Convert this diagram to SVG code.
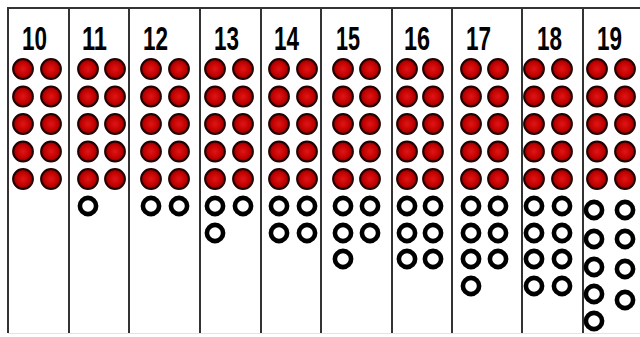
<svg xmlns="http://www.w3.org/2000/svg" width="640" height="337" viewBox="0 0 640 337">
<defs>
<radialGradient id="rg" cx="50%" cy="50%" r="50%">
<stop offset="0" stop-color="#e01515"/>
<stop offset="0.7" stop-color="#c00000"/>
<stop offset="1" stop-color="#7a0000"/>
</radialGradient>
<g id="R"><circle r="9.9" fill="url(#rg)" stroke="#200000" stroke-width="2"/></g>
<g id="O"><circle r="8.1" fill="#fff" stroke="#000" stroke-width="4.6"/></g>
</defs>
<style>
.lbl{font-family:"Liberation Sans",Arial,sans-serif;font-weight:bold;font-size:34px;fill:#000}
.div{stroke:#333;stroke-width:2;fill:none}
</style>
<rect width="640" height="337" fill="#fff"/>
<g id="connectors">
<line class="div" x1="7" y1="8" x2="640" y2="8" stroke="#000"/>
<line class="div" x1="8" y1="8" x2="8" y2="333"/>
<line class="div" x1="69" y1="8" x2="69" y2="333"/>
<line class="div" x1="129" y1="8" x2="129" y2="333"/>
<line class="div" x1="200" y1="8" x2="200" y2="333"/>
<line class="div" x1="261" y1="8" x2="261" y2="333"/>
<line class="div" x1="321" y1="8" x2="321" y2="333"/>
<line class="div" x1="392" y1="8" x2="392" y2="333"/>
<line class="div" x1="452" y1="8" x2="452" y2="333"/>
<line class="div" x1="522" y1="8" x2="522" y2="333"/>
<line class="div" x1="583" y1="8" x2="583" y2="333"/>
<line x1="8" y1="333.5" x2="640" y2="333.5" stroke="#e4e4e4" stroke-width="1"/>
</g>
<g id="col10">
<text class="lbl" x="22" y="49.5" textLength="25" lengthAdjust="spacingAndGlyphs">10</text>
<use href="#R" x="23" y="69"/><use href="#R" x="51" y="69"/>
<use href="#R" x="23" y="96.5"/><use href="#R" x="51" y="96.5"/>
<use href="#R" x="23" y="124"/><use href="#R" x="51" y="124"/>
<use href="#R" x="23" y="151.5"/><use href="#R" x="51" y="151.5"/>
<use href="#R" x="23" y="179"/><use href="#R" x="51" y="179"/>
</g>
<g id="col11">
<text class="lbl" x="82" y="49.5" textLength="25" lengthAdjust="spacingAndGlyphs">11</text>
<use href="#R" x="88" y="69"/><use href="#R" x="115" y="69"/>
<use href="#R" x="88" y="96.5"/><use href="#R" x="115" y="96.5"/>
<use href="#R" x="88" y="124"/><use href="#R" x="115" y="124"/>
<use href="#R" x="88" y="151.5"/><use href="#R" x="115" y="151.5"/>
<use href="#R" x="88" y="179"/><use href="#R" x="115" y="179"/>
<use href="#O" x="88" y="206"/>
</g>
<g id="col12">
<text class="lbl" x="143" y="49.5" textLength="25" lengthAdjust="spacingAndGlyphs">12</text>
<use href="#R" x="151" y="69"/><use href="#R" x="179" y="69"/>
<use href="#R" x="151" y="96.5"/><use href="#R" x="179" y="96.5"/>
<use href="#R" x="151" y="124"/><use href="#R" x="179" y="124"/>
<use href="#R" x="151" y="151.5"/><use href="#R" x="179" y="151.5"/>
<use href="#R" x="151" y="179"/><use href="#R" x="179" y="179"/>
<use href="#O" x="151" y="206"/><use href="#O" x="179" y="206"/>
</g>
<g id="col13">
<text class="lbl" x="214" y="49.5" textLength="25" lengthAdjust="spacingAndGlyphs">13</text>
<use href="#R" x="215" y="69"/><use href="#R" x="243" y="69"/>
<use href="#R" x="215" y="96.5"/><use href="#R" x="243" y="96.5"/>
<use href="#R" x="215" y="124"/><use href="#R" x="243" y="124"/>
<use href="#R" x="215" y="151.5"/><use href="#R" x="243" y="151.5"/>
<use href="#R" x="215" y="179"/><use href="#R" x="243" y="179"/>
<use href="#O" x="215" y="206"/><use href="#O" x="243" y="206"/>
<use href="#O" x="215" y="233"/>
</g>
<g id="col14">
<text class="lbl" x="274" y="49.5" textLength="25" lengthAdjust="spacingAndGlyphs">14</text>
<use href="#R" x="279" y="69"/><use href="#R" x="307" y="69"/>
<use href="#R" x="279" y="96.5"/><use href="#R" x="307" y="96.5"/>
<use href="#R" x="279" y="124"/><use href="#R" x="307" y="124"/>
<use href="#R" x="279" y="151.5"/><use href="#R" x="307" y="151.5"/>
<use href="#R" x="279" y="179"/><use href="#R" x="307" y="179"/>
<use href="#O" x="279" y="206"/><use href="#O" x="307" y="206"/>
<use href="#O" x="279" y="233"/><use href="#O" x="307" y="233"/>
</g>
<g id="col15">
<text class="lbl" x="336" y="49.5" textLength="24" lengthAdjust="spacingAndGlyphs">15</text>
<use href="#R" x="343" y="69"/><use href="#R" x="370" y="69"/>
<use href="#R" x="343" y="96.5"/><use href="#R" x="370" y="96.5"/>
<use href="#R" x="343" y="124"/><use href="#R" x="370" y="124"/>
<use href="#R" x="343" y="151.5"/><use href="#R" x="370" y="151.5"/>
<use href="#R" x="343" y="179"/><use href="#R" x="370" y="179"/>
<use href="#O" x="343" y="206"/><use href="#O" x="370" y="206"/>
<use href="#O" x="343" y="233"/><use href="#O" x="370" y="233"/>
<use href="#O" x="343" y="259"/>
</g>
<g id="col16">
<text class="lbl" x="404" y="49.5" textLength="26" lengthAdjust="spacingAndGlyphs">16</text>
<use href="#R" x="407" y="69"/><use href="#R" x="433" y="69"/>
<use href="#R" x="407" y="96.5"/><use href="#R" x="433" y="96.5"/>
<use href="#R" x="407" y="124"/><use href="#R" x="433" y="124"/>
<use href="#R" x="407" y="151.5"/><use href="#R" x="433" y="151.5"/>
<use href="#R" x="407" y="179"/><use href="#R" x="433" y="179"/>
<use href="#O" x="407" y="206"/><use href="#O" x="433" y="206"/>
<use href="#O" x="407" y="233"/><use href="#O" x="433" y="233"/>
<use href="#O" x="407" y="259"/><use href="#O" x="433" y="259"/>
</g>
<g id="col17">
<text class="lbl" x="466" y="49.5" textLength="25" lengthAdjust="spacingAndGlyphs">17</text>
<use href="#R" x="471" y="69"/><use href="#R" x="498" y="69"/>
<use href="#R" x="471" y="96.5"/><use href="#R" x="498" y="96.5"/>
<use href="#R" x="471" y="124"/><use href="#R" x="498" y="124"/>
<use href="#R" x="471" y="151.5"/><use href="#R" x="498" y="151.5"/>
<use href="#R" x="471" y="179"/><use href="#R" x="498" y="179"/>
<use href="#O" x="471" y="206"/><use href="#O" x="498" y="206"/>
<use href="#O" x="471" y="233"/><use href="#O" x="498" y="233"/>
<use href="#O" x="471" y="259"/><use href="#O" x="498" y="259"/>
<use href="#O" x="471" y="286"/>
</g>
<g id="col18">
<text class="lbl" x="537" y="49.5" textLength="25" lengthAdjust="spacingAndGlyphs">18</text>
<use href="#R" x="534" y="69"/><use href="#R" x="562" y="69"/>
<use href="#R" x="534" y="96.5"/><use href="#R" x="562" y="96.5"/>
<use href="#R" x="534" y="124"/><use href="#R" x="562" y="124"/>
<use href="#R" x="534" y="151.5"/><use href="#R" x="562" y="151.5"/>
<use href="#R" x="534" y="179"/><use href="#R" x="562" y="179"/>
<use href="#O" x="534" y="206"/><use href="#O" x="562" y="206"/>
<use href="#O" x="534" y="233"/><use href="#O" x="562" y="233"/>
<use href="#O" x="534" y="259"/><use href="#O" x="562" y="259"/>
<use href="#O" x="534" y="286"/><use href="#O" x="562" y="286"/>
</g>
<g id="col19">
<text class="lbl" x="597" y="49.5" textLength="25" lengthAdjust="spacingAndGlyphs">19</text>
<use href="#R" x="597" y="69"/><use href="#R" x="625" y="69"/>
<use href="#R" x="597" y="96.5"/><use href="#R" x="625" y="96.5"/>
<use href="#R" x="597" y="124"/><use href="#R" x="625" y="124"/>
<use href="#R" x="597" y="151.5"/><use href="#R" x="625" y="151.5"/>
<use href="#R" x="597" y="179"/><use href="#R" x="625" y="179"/>
<use href="#O" x="594" y="210"/><use href="#O" x="625" y="210"/>
<use href="#O" x="594" y="239"/><use href="#O" x="625" y="239"/>
<use href="#O" x="594" y="267"/><use href="#O" x="625" y="269"/>
<use href="#O" x="594" y="294"/><use href="#O" x="625" y="300"/>
<use href="#O" x="594" y="321"/>
</g>
</svg>
